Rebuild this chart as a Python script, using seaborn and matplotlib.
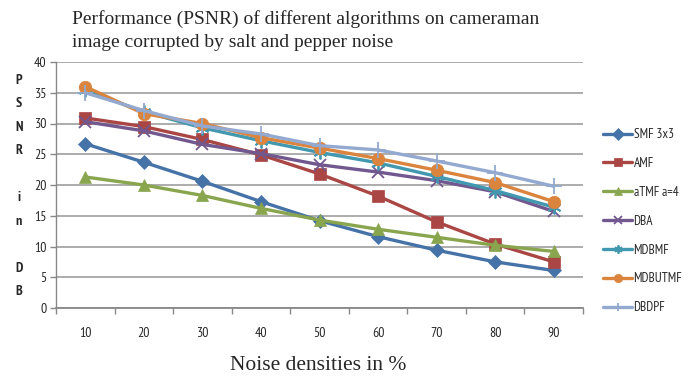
import numpy as np
import pandas as pd
import matplotlib
matplotlib.use("Agg")
import matplotlib.pyplot as plt
from matplotlib import font_manager as fm
import seaborn as sns

noise = [10, 20, 30, 40, 50, 60, 70, 80, 90]
smf = [26.7, 23.7, 20.6, 17.3, 14.2, 11.6, 9.4, 7.5, 6.1]
amf = [30.9, 29.5, 27.4, 24.9, 21.8, 18.2, 14.0, 10.4, 7.5]
atmf = [21.3, 20.0, 18.3, 16.2, 14.3, 12.8, 11.5, 10.2, 9.2]
dba = [30.3, 28.8, 26.6, 25.1, 23.3, 22.1, 20.7, 18.9, 15.7]
mdbmf = [35.4, 31.9, 29.3, 27.2, 25.3, 23.6, 21.4, 19.1, 16.4]
mdbutmf = [36.0, 31.6, 30.0, 27.7, 26.0, 24.3, 22.4, 20.4, 17.3]
dbdpf = [35.0, 32.1, 29.6, 28.3, 26.4, 25.7, 23.9, 22.0, 19.8]
series_names = ["SMF 3x3", "AMF", "aTMF a=4", "DBA", "MDBMF", "MDBUTMF", "DBDPF"]
series_vals = [smf, amf, atmf, dba, mdbmf, mdbutmf, dbdpf]
yticks = [0, 5, 10, 15, 20, 25, 30, 35, 40]

colors = ["#4572A7", "#AA4643", "#89A54E", "#71588F", "#4198AF", "#DB843D", "#93A9CF"]
asterisk = (6, 2, 0)
markers = ["D", "s", "^", "x", asterisk, "o", "+"]
msizes = [7, 8, 8, 9, 10, 9, 11]

rows = []
for name, vals in zip(series_names, series_vals):
    for i, (n, v) in enumerate(zip(noise, vals)):
        rows.append({"pos": i, "noise": n, "psnr": v, "alg": name})
df = pd.DataFrame(rows)

sns.set_theme(style="white")

# find a narrow sans font if available (prefer Liberation Sans Narrow)
def _ok(low):
    return "bold" not in low and "italic" not in low and "oblique" not in low
cands = [f for f in fm.findSystemFonts() if _ok(f.lower())]
narrow_path = None
for test in (lambda s: "liberation" in s and "narrow" in s,
             lambda s: "narrow" in s and "sans" in s,
             lambda s: "condensed" in s and "sans" in s):
    hits = sorted(f for f in cands if test(f.lower()))
    if hits:
        narrow_path = hits[0]
        break
if narrow_path:
    fm.fontManager.addfont(narrow_path)
    narrow = fm.FontProperties(fname=narrow_path).get_name()
else:
    narrow = "DejaVu Sans"

fig = plt.figure(figsize=(6.88, 3.76), dpi=100)
ax = fig.add_axes([56/688, 1-308/376, (583-56)/688, (308-62)/376])

for k, name in enumerate(series_names):
    sub = df[df["alg"] == name]
    sns.lineplot(data=sub, x="pos", y="psnr", ax=ax, color=colors[k], lw=2.4,
                 marker=markers[k], markersize=msizes[k], markeredgecolor=colors[k],
                 markeredgewidth=1.3 if k in (3, 4, 6) else 0.5, label=name, zorder=3+k)

ax.set_xlim(-0.5, len(noise) - 0.5)
ax.set_ylim(0, 40)
ax.set_yticks(yticks)
ax.set_yticklabels([str(t) for t in yticks], fontfamily=narrow, fontsize=10)
ax.set_xticks(np.arange(-0.5, len(noise)))
ax.set_xticklabels([])
ax.set_xticks(np.arange(len(noise)), minor=True)
ax.set_xticklabels([str(n) for n in noise], minor=True, fontfamily=narrow, fontsize=10)
ax.tick_params(axis="x", which="major", length=4, direction="out", color="#888888", width=1, bottom=True)
ax.tick_params(axis="x", which="minor", length=0, pad=14)
ax.tick_params(axis="y", length=4, direction="out", color="#888888", width=1, left=True, pad=3)
ax.grid(axis="y", color="#A6A6A6", lw=1.3)
ax.set_axisbelow(True)
for s in ["top", "right"]:
    ax.spines[s].set_visible(False)
ax.spines["left"].set_color("#888888")
ax.spines["bottom"].set_color("#888888")
ax.spines["left"].set_linewidth(1)
ax.spines["bottom"].set_linewidth(1.3)
ax.set_xlabel("")
ax.set_ylabel("")

fig.text(19/688, 1-186/376, "P\nS\nN\nR\n\ni\nn\n\nD\nB", ha="center", va="center",
         fontfamily=narrow, fontweight="bold", fontsize=10, linespacing=2.05)
fig.text(72/688, 1-10/376, "Performance (PSNR) of different algorithms on cameraman\nimage corrupted by salt and pepper noise",
         ha="left", va="top", fontfamily="Liberation Serif", fontsize=14, linespacing=1.5)
fig.text(318/688, 1-366/376, "Noise densities in %", ha="center", va="center",
         fontfamily="Liberation Serif", fontsize=15.5)

leg = ax.legend(loc="upper left", bbox_to_anchor=(598/688, 1-123/376), bbox_transform=fig.transFigure,
                frameon=False, prop={"family": narrow, "size": 9.5}, labelspacing=1.2,
                handlelength=2.2, handletextpad=0.1, borderaxespad=0)
for h in leg.legend_handles:
    h.set_markersize(6)

fig.savefig("out.png", dpi=100)
